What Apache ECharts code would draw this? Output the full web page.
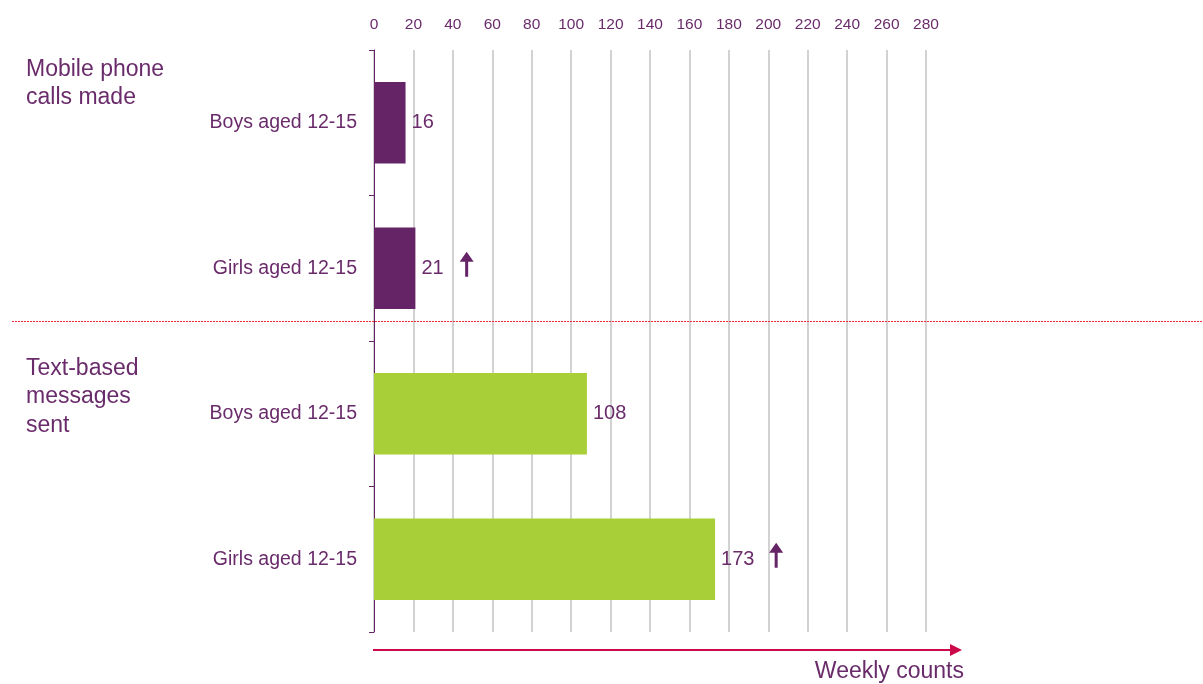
<!DOCTYPE html>
<html>
<head>
<meta charset="utf-8">
<script src="https://cdn.jsdelivr.net/npm/echarts@6/dist/echarts.min.js"></script>
<style>
  html, body { margin: 0; padding: 0; background: #fff; }
  #main { width: 1203px; height: 684px; }
</style>
</head>
<body>
<div id="main"></div>
<script>
// data
var categories = ['Boys aged 12-15', 'Girls aged 12-15', 'Boys aged 12-15', 'Girls aged 12-15'];
var groupOf = [0, 0, 1, 1];                 // 0 = calls made, 1 = texts sent
var groupNames = ['Mobile phone\ncalls made', 'Text-based\nmessages\nsent'];
var weeklyCounts = [16, 21, 108, 173];
// up arrows (significant increase) : [x value, category index]
var increaseMarks = [[47, 1], [204, 3]];
var xTicks = { min: 0, max: 280, step: 20 };

var purple = '#652466';
var textPurple = '#6a2b6b';
var green = '#a8cf38';
var font = 'Arial';

var chart = echarts.init(document.getElementById('main'));

var option = {
  animation: false,
  grid: { left: 374, right: 277, top: 50, bottom: 52 },
  xAxis: {
    type: 'value',
    position: 'top',
    min: xTicks.min,
    max: xTicks.max,
    interval: xTicks.step,
    axisLine: { show: false },
    axisTick: { show: false },
    axisLabel: { color: textPurple, fontSize: 15.5, fontFamily: font, margin: 17 },
    splitLine: { show: true, lineStyle: { color: '#d2d2d2', width: 2 } }
  },
  yAxis: {
    type: 'category',
    inverse: true,
    data: categories,
    axisLine: { show: true, lineStyle: { color: purple, width: 1 } },
    axisTick: { show: true, length: 5, lineStyle: { color: purple } },
    axisLabel: { color: textPurple, fontSize: 19.5, fontFamily: font, margin: 17 }
  },
  series: [
    {
      type: 'bar',
      data: weeklyCounts,
      barCategoryGap: '44%',
      itemStyle: {
        color: function (p) { return groupOf[p.dataIndex] === 0 ? purple : green; }
      },
      label: {
        show: true,
        position: 'right',
        distance: 6,
        color: textPurple,
        fontSize: 20,
        fontFamily: font
      },
      z: 3
    },
    {
      type: 'scatter',
      data: increaseMarks,
      symbol: 'path://M7,0 L14,10 L8.5,10 L8.5,25 L5.5,25 L5.5,10 L0,10 Z',
      symbolSize: [14, 25],
      symbolOffset: [0, -4],
      itemStyle: { color: purple, opacity: 1 },
      silent: true,
      z: 4
    }
  ],
  graphic: [
    {
      type: 'text', left: 26, top: 55,
      style: { text: groupNames[0], fill: textPurple, fontSize: 23, fontFamily: font, lineHeight: 28.5 }
    },
    {
      type: 'text', left: 26, top: 354,
      style: { text: groupNames[1], fill: textPurple, fontSize: 23, fontFamily: font, lineHeight: 28.5 }
    },
    {
      type: 'line',
      shape: { x1: 12, y1: 321.5, x2: 1203, y2: 321.5 },
      style: { stroke: '#ee2a36', lineWidth: 1, lineDash: [2, 1] },
      z: 10
    },
    {
      type: 'line',
      shape: { x1: 373, y1: 650, x2: 952, y2: 650 },
      style: { stroke: '#cc0a4a', lineWidth: 2 }
    },
    {
      type: 'polygon',
      shape: { points: [[950, 644], [962, 650], [950, 656]] },
      style: { fill: '#cc0a4a' }
    },
    {
      type: 'text', right: 239, top: 660,
      style: { text: 'Weekly counts', fill: textPurple, fontSize: 23, fontFamily: font }
    }
  ]
};

chart.setOption(option);
</script>
</body>
</html>
